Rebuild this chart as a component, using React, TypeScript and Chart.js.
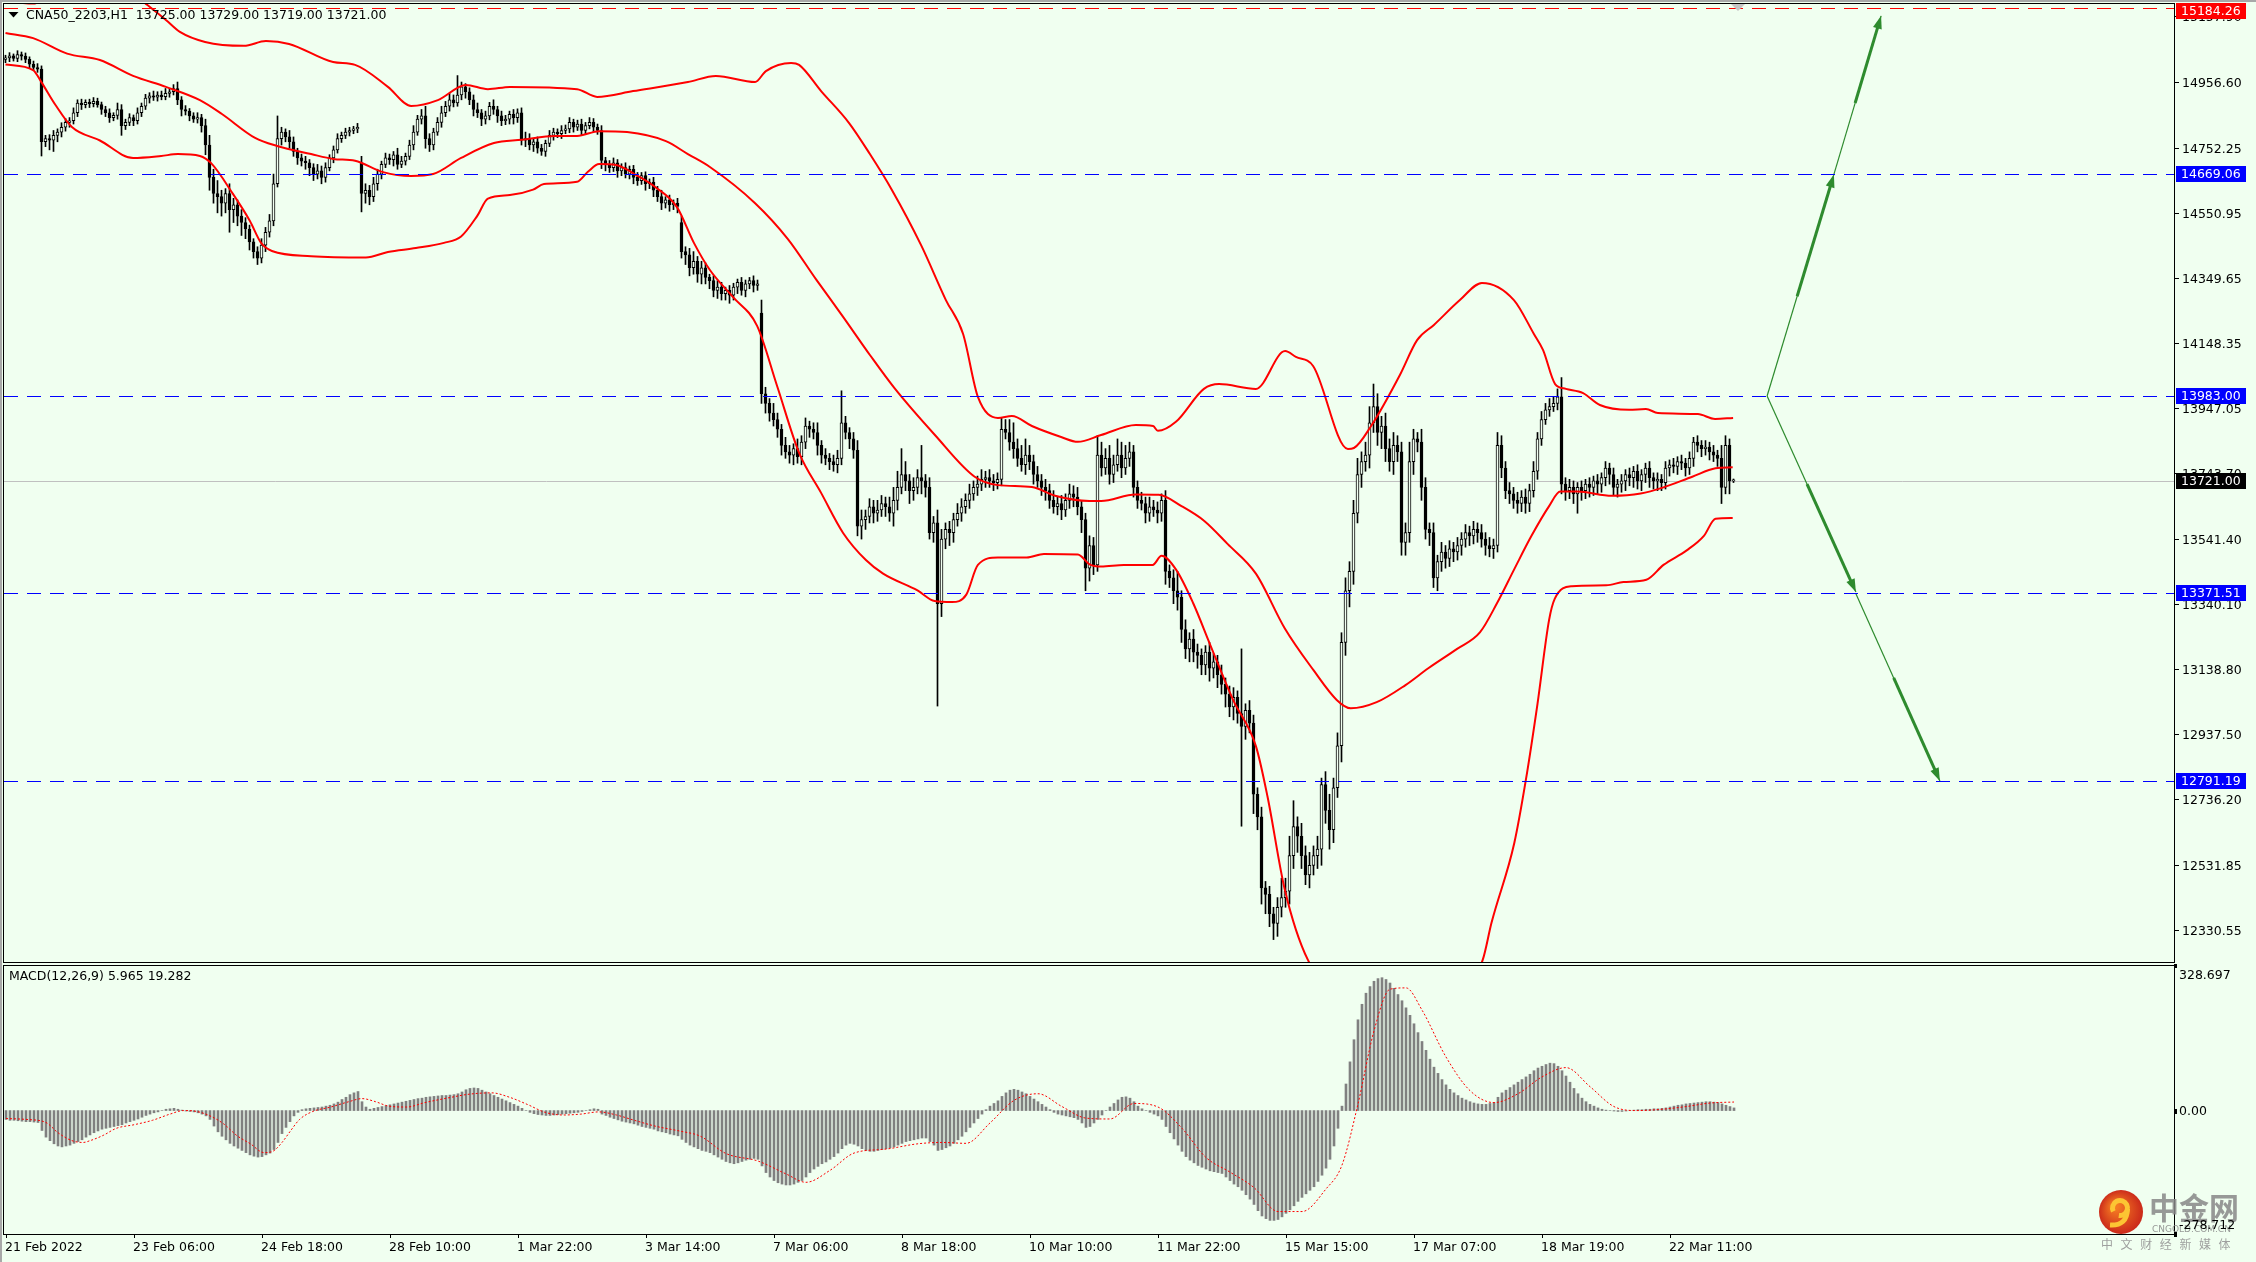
import React, { useEffect, useRef } from 'react';
import { Chart, registerables } from 'chart.js';

Chart.register(...registerables);

// ---------------- data ----------------
const titleText = 'CNA50_2203,H1  13725.00 13729.00 13719.00 13721.00';
const macdTitle = 'MACD(12,26,9) 5.965 19.282';

const firstOpen = 15025;
const gapOpens: Record<number, number> = { 89: 14705, 169: 14520, 189: 14240 };

const closes = [
  15030, 15036, 15028, 15040, 15035, 15025, 15010, 15000, 14995, 14770,
  14780, 14775, 14790, 14800, 14815, 14830, 14835, 14860, 14890, 14885,
  14892, 14888, 14895, 14885, 14870, 14860, 14845, 14852, 14870, 14820,
  14830, 14845, 14835, 14860, 14880, 14905, 14912, 14908, 14915, 14910,
  14920, 14925, 14935, 14900, 14870, 14865, 14850, 14840, 14845, 14820,
  14760, 14660, 14610, 14600, 14580, 14610, 14560, 14575, 14540, 14520,
  14500, 14460, 14430, 14410, 14450, 14490, 14525, 14640, 14780, 14800,
  14785, 14770, 14740, 14720, 14710, 14705, 14690, 14670, 14680, 14660,
  14690, 14720, 14745, 14780, 14790, 14800, 14805, 14810, 14815, 14610,
  14620, 14600, 14640, 14670, 14700, 14720, 14715, 14730, 14700, 14710,
  14725, 14760, 14800, 14840, 14850, 14780, 14760, 14800, 14830, 14860,
  14880, 14900, 14890, 14915, 14940, 14925, 14900, 14870, 14860, 14840,
  14850, 14880, 14870, 14850, 14835, 14840, 14855, 14845, 14860, 14775,
  14780, 14760, 14770, 14750, 14740, 14765, 14790, 14800, 14795, 14805,
  14810, 14830, 14815, 14825, 14805, 14820, 14830, 14815, 14805, 14712,
  14700, 14690, 14705, 14680, 14690, 14670, 14685, 14660, 14650, 14665,
  14640, 14645, 14620, 14600, 14580, 14590, 14575, 14580, 14570, 14430,
  14420, 14380, 14400, 14360, 14380, 14350, 14340, 14310, 14320, 14300,
  14310, 14295, 14320, 14335, 14310, 14330, 14340, 14325, 14330, 13990,
  13960, 13930, 13910, 13880, 13830, 13810, 13800, 13820, 13795, 13840,
  13890, 13880, 13870, 13830, 13800, 13790, 13780, 13770, 13790, 13900,
  13870, 13850, 13815, 13580, 13600, 13610, 13640, 13620, 13630, 13650,
  13640, 13620, 13660, 13700, 13740, 13720, 13690, 13700, 13730, 13720,
  13700, 13560, 13590, 13340, 13540, 13570, 13560, 13600, 13620, 13640,
  13660, 13680, 13700, 13710, 13725, 13730, 13720, 13715, 13725, 13880,
  13870, 13840, 13820, 13790, 13770, 13800, 13780, 13740, 13720, 13700,
  13690, 13660, 13640, 13650, 13630, 13660, 13680, 13670, 13640, 13600,
  13450, 13520, 13460, 13800, 13760, 13790, 13740, 13770, 13800, 13760,
  13790, 13810, 13700, 13660, 13650, 13620, 13640, 13630, 13620, 13660,
  13440, 13420, 13380, 13360, 13260, 13200, 13230, 13190, 13180, 13150,
  13190, 13140, 13160, 13120, 13090, 13060, 13020, 13050, 13000, 12960,
  13010, 12970, 12750, 12680, 12460, 12440, 12380, 12350, 12400, 12430,
  12450, 12560, 12650, 12620, 12560, 12500, 12530, 12560, 12580, 12780,
  12700, 12640, 12770, 12900, 13220, 13380, 13440, 13620, 13740, 13780,
  13800, 13900, 13950, 13870, 13890, 13820, 13780, 13830, 13810, 13530,
  13560, 13780, 13850, 13840, 13700, 13570, 13560, 13420, 13470, 13500,
  13480, 13510, 13500, 13520, 13540, 13560, 13550, 13570, 13560, 13540,
  13520, 13510, 13520, 13830, 13760, 13690, 13680, 13660, 13650, 13670,
  13650, 13690, 13750, 13850, 13910, 13940, 13950, 13960, 13980, 13710,
  13690, 13700, 13680, 13700, 13690, 13710, 13700, 13720, 13710, 13730,
  13760, 13740, 13700, 13710, 13720, 13740, 13730, 13750, 13720, 13740,
  13760, 13730, 13720, 13725, 13715, 13760, 13770, 13765, 13780, 13775,
  13760, 13790, 13840, 13830, 13820, 13825, 13810, 13800, 13790, 13700,
  13830, 13720, 13721,
];

const wickUp = [
  8, 10, 6, 12, 8, 10, 8, 10, 12, 10,
  10, 12, 15, 10, 14, 12, 10, 15, 10, 12,
  8, 10, 12, 10, 8, 10, 12, 8, 20, 15,
  10, 12, 8, 15, 10, 12, 10, 15, 10, 12,
  15, 10, 12, 20, 10, 12, 8, 10, 15, 10,
  20, 30, 25, 40, 20, 15, 30, 20, 15, 20,
  15, 12, 10, 15, 20, 15, 20, 30, 70, 15,
  10, 20, 15, 10, 12, 15, 10, 12, 20, 15,
  15, 10, 12, 15, 10, 12, 10, 8, 12, 20,
  20, 15, 20, 15, 10, 15, 12, 10, 20, 15,
  10, 15, 20, 12, 20, 30, 15, 12, 15, 20,
  15, 20, 15, 60, 15, 10, 12, 15, 20, 10,
  15, 12, 20, 10, 15, 12, 10, 15, 12, 15,
  20, 15, 10, 15, 12, 10, 15, 12, 10, 15,
  12, 15, 10, 12, 15, 10, 15, 12, 10, 15,
  10, 12, 15, 10, 12, 15, 10, 12, 15, 10,
  12, 10, 15, 12, 20, 10, 15, 10, 15, 20,
  15, 20, 30, 15, 20, 15, 10, 15, 20, 15,
  10, 15, 12, 10, 15, 12, 10, 15, 12, 40,
  20, 15, 30, 20, 15, 25, 20, 15, 30, 20,
  25, 15, 20, 30, 15, 20, 15, 20, 25, 99,
  20, 15, 20, 30, 30, 20, 25, 20, 30, 25,
  20, 30, 40, 50, 80, 40, 20, 30, 25, 100,
  20, 30, 20, 40, 30, 20, 25, 20, 30, 25,
  20, 30, 20, 25, 30, 20, 25, 20, 20, 35,
  30, 40, 60, 30, 40, 50, 30, 20, 25, 20,
  25, 20, 30, 20, 25, 20, 30, 25, 30, 20,
  20, 30, 25, 60, 40, 30, 40, 30, 50, 40,
  40, 30, 20, 20, 25, 20, 30, 20, 25, 20,
  30, 20, 25, 60, 20, 30, 20, 30, 25, 20,
  20, 30, 25, 20, 30, 20, 25, 30, 20, 200,
  20, 30, 25, 20, 30, 20, 25, 20, 30, 60,
  40, 60, 80, 30, 40, 30, 40, 30, 40, 20,
  40, 50, 30, 40, 30, 40, 30, 40, 50, 30,
  40, 50, 70, 40, 30, 40, 30, 40, 30, 30,
  30, 60, 30, 20, 40, 30, 20, 30, 20, 30,
  20, 25, 20, 25, 20, 25, 20, 25, 20, 25,
  20, 25, 20, 40, 30, 20, 25, 20, 25, 20,
  25, 20, 30, 20, 25, 20, 25, 20, 25, 60,
  20, 25, 20, 15, 20, 15, 20, 15, 20, 15,
  20, 15, 20, 15, 20, 15, 20, 15, 20, 15,
  15, 20, 15, 20, 15, 20, 15, 20, 15, 20,
  15, 20, 15, 20, 15, 20, 15, 20, 15, 40,
  30, 20, 5,
];

const wickDown = [
  10, 12, 8, 10, 12, 10, 12, 8, 10, 44,
  15, 30, 35, 20, 15, 12, 15, 10, 12, 15,
  10, 12, 10, 8, 15, 12, 15, 10, 12, 30,
  12, 10, 15, 10, 12, 10, 15, 10, 12, 10,
  10, 12, 10, 15, 20, 12, 15, 10, 12, 20,
  30, 40, 30, 50, 40, 30, 70, 40, 30, 40,
  30, 25, 20, 20, 15, 20, 15, 15, 10, 20,
  15, 20, 15, 20, 15, 20, 25, 20, 15, 20,
  15, 10, 15, 10, 12, 10, 12, 10, 12, 57,
  30, 25, 15, 20, 15, 10, 15, 20, 15, 10,
  12, 10, 15, 10, 15, 30, 20, 15, 10, 15,
  12, 15, 12, 10, 15, 20, 15, 20, 15, 20,
  15, 12, 15, 20, 15, 12, 15, 20, 15, 15,
  20, 15, 20, 15, 12, 15, 10, 15, 12, 15,
  10, 12, 15, 10, 15, 12, 10, 15, 12, 25,
  20, 15, 12, 20, 15, 12, 15, 20, 15, 12,
  20, 15, 20, 15, 20, 15, 20, 15, 20, 20,
  30, 25, 20, 25, 30, 20, 25, 20, 25, 20,
  20, 25, 15, 20, 15, 20, 15, 20, 15, 30,
  30, 25, 20, 25, 30, 20, 25, 30, 20, 25,
  20, 25, 20, 30, 25, 20, 25, 20, 25, 20,
  20, 30, 25, 30, 40, 30, 20, 30, 25, 20,
  30, 25, 40, 30, 20, 30, 40, 30, 20, 40,
  30, 20, 30, 317, 40, 30, 40, 30, 20, 25,
  20, 25, 20, 25, 20, 25, 20, 25, 20, 20,
  20, 25, 30, 25, 20, 30, 25, 30, 20, 25,
  30, 25, 20, 25, 30, 20, 25, 30, 25, 40,
  70, 40, 30, 20, 25, 20, 30, 25, 20, 30,
  20, 25, 30, 25, 20, 30, 25, 20, 30, 25,
  40, 30, 40, 40, 40, 30, 40, 30, 40, 30,
  30, 40, 30, 40, 30, 40, 30, 40, 30, 309,
  40, 30, 60, 40, 50, 60, 40, 50, 40, 30,
  30, 40, 40, 50, 40, 30, 40, 30, 40, 50,
  40, 60, 40, 30, 50, 40, 50, 40, 30, 40,
  30, 40, 30, 40, 50, 40, 30, 40, 30, 40,
  40, 30, 40, 30, 40, 30, 40, 30, 40, 30,
  30, 25, 30, 25, 30, 25, 30, 25, 30, 25,
  30, 25, 30, 20, 30, 25, 30, 25, 30, 25,
  30, 25, 20, 25, 20, 15, 20, 15, 20, 30,
  30, 25, 30, 60, 30, 25, 30, 25, 30, 25,
  25, 30, 25, 30, 25, 30, 25, 30, 25, 30,
  25, 30, 25, 30, 25, 20, 25, 20, 25, 20,
  25, 20, 25, 20, 25, 20, 25, 20, 25, 50,
  20, 40, 5,
];

// Bollinger bands: [bar index, price]
const bbUpper: [number, number][] = [
  [0, 15205], [7, 15198], [12.5, 15240], [16.6, 15275], [23.6, 15272], [31.9, 15228], [35.4, 15194],
  [40.1, 15147], [43.6, 15110], [49.9, 15079], [59.6, 15067], [65.1, 15082], [70.9, 15073], [81.9, 15017],
  [87.4, 15008], [95.6, 14940], [101.4, 14881], [108.1, 14899], [115.1, 14946], [120.6, 14933], [126.1, 14940],
  [142.9, 14933], [147.9, 14909], [156.9, 14927], [170.6, 14955], [177.6, 14974], [187.4, 14955], [190.1, 14989],
  [196.4, 15014], [198.4, 15008], [203.9, 14927], [210.9, 14828], [216.1, 14732], [221.6, 14621], [228.9, 14450],
  [235.1, 14280], [239.4, 14175], [243.1, 13980], [248.1, 13915], [251.6, 13921], [256.6, 13890], [263.9, 13856],
  [268.1, 13841], [273.9, 13862], [282.6, 13893], [286.9, 13890], [288.1, 13875], [292.6, 13903], [299.6, 14005],
  [303.4, 14020], [312.6, 14005], [319.9, 14122], [322.6, 14104], [326.9, 14076], [335.6, 13819], [337.1, 13822],
  [341.4, 13890], [348.6, 14048], [352.9, 14156], [357.1, 14203], [363.6, 14280], [369.1, 14333], [377.1, 14280],
  [382.1, 14175], [384.4, 14125], [387.4, 14020], [390.1, 14005], [394.4, 13992], [398.6, 13955], [405.9, 13940],
  [410.1, 13943], [413.1, 13930], [423.1, 13927], [427.4, 13912], [431.9, 13915],
];
const bbMiddle: [number, number][] = [
  [0, 15107], [6.9, 15091], [15.4, 15043], [23.6, 15023], [31.9, 14974], [40.1, 14940], [48.6, 14899],
  [54.1, 14856], [62.4, 14782], [67.9, 14757], [76.4, 14732], [81.9, 14717], [87.4, 14711], [94.4, 14676],
  [101.4, 14664], [106.9, 14670], [113.9, 14720], [122.1, 14766], [129.1, 14776], [137.4, 14788], [142.9, 14788],
  [148.4, 14803], [155.4, 14800], [165.1, 14772], [170.6, 14732], [176.1, 14692], [187.4, 14580], [195.6, 14469],
  [202.6, 14345], [209.4, 14228], [216.1, 14110], [222.2, 14008], [232.3, 13863], [242.3, 13733], [248.1, 13707],
  [256.6, 13701], [262.4, 13674], [271, 13658], [273.9, 13658], [282.5, 13678], [288.3, 13677], [294, 13642],
  [299.7, 13596], [305.5, 13525], [312.6, 13433], [319.8, 13264], [327, 13134], [332.8, 13042], [336.3, 13016],
  [342.8, 13035], [350, 13088], [355.7, 13140], [362.9, 13200], [368.6, 13251], [372.9, 13342], [377.2, 13447],
  [381.5, 13550], [385.9, 13642], [388.7, 13687], [393, 13687], [401.6, 13674], [408.8, 13681], [414.5, 13700],
  [421.7, 13733], [427.5, 13759], [431.8, 13762],
];
const bbLower: [number, number][] = [
  [0, 15009], [6.9, 14992], [9, 14954], [12.5, 14884], [16.6, 14816], [23.6, 14774], [31.9, 14720],
  [38.9, 14726], [43.1, 14732], [48.6, 14726], [51.4, 14704], [56.9, 14608], [61.1, 14525], [63.9, 14457],
  [66.6, 14432], [76.4, 14416], [90.1, 14412], [95.6, 14429], [102.6, 14441], [109.6, 14457], [113.9, 14477],
  [117.9, 14540], [120.6, 14594], [126.1, 14605], [131.9, 14622], [134.6, 14639], [142.9, 14646], [145.6, 14677],
  [148.4, 14701], [152.6, 14698], [158.1, 14664], [162.4, 14630], [167.9, 14567], [172.1, 14457], [176.1, 14373],
  [181.9, 14289], [187.9, 14200], [192.9, 14014], [198.4, 13807], [203.9, 13683], [209.4, 13559], [215.1, 13475],
  [219.4, 13433], [228, 13381], [232.3, 13348], [236.6, 13345], [240.2, 13368], [243.1, 13460], [248.1, 13483],
  [255.3, 13483], [259.6, 13494], [268.1, 13492], [271, 13462], [273.9, 13455], [279.6, 13460], [286.8, 13460],
  [289, 13488], [292.6, 13446], [296.9, 13342], [301.2, 13212], [306.9, 13042], [312.6, 12899], [315.5, 12743],
  [319.8, 12456], [325.6, 12237], [330, 12180], [337, 12200], [343, 12160], [349, 12110], [357, 12095],
  [364, 12140], [369.3, 12237], [371.5, 12352], [377.2, 12599], [380.1, 12795], [383, 13030], [385.9, 13290],
  [387.3, 13355], [391.6, 13394], [400.2, 13397], [404.5, 13407], [410.2, 13414], [414.5, 13460], [420.3, 13505],
  [424.6, 13550], [427.5, 13603], [431.8, 13605],
];

const priceTicks = [
  15157.9, 14956.6, 14752.25, 14550.95, 14349.65, 14148.35, 13947.05, 13743.7,
  13541.4, 13340.1, 13138.8, 12937.5, 12736.2, 12531.85, 12330.55,
];
const levelPrices = [15184.26, 14669.06, 13983.0, 13371.51, 12791.19];
const levelColors = ['#FF0000', '#0000FF', '#0000FF', '#0000FF', '#0000FF'];
const lastPrice = 13721.0;

// projected paths: [bar index, price]
const arrowSegments: [number, number][][] = [
  [[440.4, 13983], [457.1, 14669]],
  [[457.1, 14669], [468.9, 15160]],
  [[440.4, 13983], [462.6, 13376]],
  [[462.6, 13371], [483.6, 12791]],
];

const macdHist = [
  -20, -22, -22, -23, -24, -25, -25, -26, -27, -45,
  -60, -68, -75, -80, -82, -80, -78, -74, -70, -66,
  -60, -55, -50, -46, -42, -40, -38, -36, -34, -32,
  -28, -25, -22, -19, -15, -11, -8, -5, -3, 0,
  3, 4, 5, 3, 1, -1, -2, -3, -5, -8,
  -12, -20, -35, -48, -58, -66, -74, -80, -85, -90,
  -95, -100, -103, -105, -104, -100, -96, -88, -72, -52,
  -38, -25, -12, -4, 2, 4, 5, 6, 7, 8,
  10, 12, 15, 19, 25, 30, 36, 40, 43, 20,
  8, 3, 5, 7, 9, 11, 13, 15, 17, 19,
  21, 23, 25, 27, 28, 30, 31, 32, 33, 34,
  34, 35, 36, 38, 42, 47, 50, 51, 50, 46,
  42, 38, 34, 30, 26, 22, 18, 14, 10, 5,
  0, -4, -7, -9, -10, -11, -11, -10, -9, -8,
  -7, -6, -5, -4, -2, 0, 2, 4, 3, -8,
  -11, -15, -18, -21, -24, -26, -28, -30, -33, -36,
  -38, -40, -42, -46, -48, -50, -53, -55, -57, -65,
  -72, -78, -82, -86, -90, -92, -95, -100, -105, -110,
  -115, -118, -120, -118, -115, -112, -110, -108, -110, -125,
  -140, -150, -158, -163, -166, -168, -168, -166, -162, -158,
  -150, -140, -132, -126, -120, -116, -110, -104, -96, -86,
  -78, -74, -76, -80, -86, -90, -92, -92, -90, -88,
  -86, -84, -82, -78, -74, -70, -68, -66, -64, -62,
  -62, -70, -78, -90, -88, -84, -80, -74, -66, -58,
  -48, -38, -28, -18, -8, 2, 10, 16, 22, 32,
  40, 46, 48, 46, 42, 38, 32, 26, 20, 14,
  8, 2, -4, -8, -10, -12, -14, -16, -20, -28,
  -38, -36, -28, -20, -10, 0, 8, 16, 24, 30,
  31, 28, 20, 10, 4, 0, -4, -8, -12, -20,
  -36, -50, -64, -78, -92, -104, -112, -118, -124, -128,
  -132, -136, -138, -140, -142, -150, -158, -166, -172, -180,
  -190, -200, -212, -226, -238, -244, -248, -248, -246, -240,
  -232, -224, -215, -205, -196, -188, -180, -172, -160, -146,
  -130, -110, -80, -40, 10, 60, 110, 160, 205, 240,
  265, 280, 292, 298, 300, 296, 288, 276, 262, 248,
  232, 215, 196, 176, 156, 136, 116, 98, 84, 70,
  58, 48, 40, 34, 28, 24, 20, 17, 15, 14,
  14, 16, 18, 30, 40, 46, 52, 58, 64, 70,
  76, 82, 90, 96, 100, 104, 107, 106, 100, 90,
  78, 64, 50, 38, 28, 20, 14, 10, 6, 3,
  1, 0, -1, -2, -2, -1, 0, 1, 2, 2,
  3, 3, 4, 4, 5, 6, 8, 10, 12, 13,
  15, 16, 17, 18, 19, 20, 20, 19, 18, 15,
  12, 9, 6,
];

const macdSignal: [number, number][] = [
  [0, -18], [5, -20], [10, -27], [13, -50], [16.5, -68], [19.3, -72], [21, -68], [24.3, -56], [27.6, -40],
  [32, -32], [36.6, -22], [41, -8], [44.4, 0], [47.7, -2], [51, -12], [54.4, -30], [57.8, -57], [61.1, -75],
  [64.5, -95], [66.7, -92], [69, -72], [71.2, -45], [73.4, -20], [76.7, -2], [81.2, 8], [85.7, 20], [89, 27],
  [92.4, 20], [95.7, 10], [100.2, 8], [104.7, 18], [110.2, 28], [115.8, 37], [121.4, 40], [125.9, 30],
  [130.3, 14], [134.8, -4], [139.3, -10], [143.7, -8], [148.2, -3], [152.6, -10], [157.1, -22], [162.7, -36],
  [168.3, -46], [173.6, -58], [180, -97], [188, -114], [195, -143], [200, -162], [206, -135], [212, -96],
  [220, -87], [228, -75], [234, -72], [240, -74], [246, -28], [252, 23], [258, 38], [264, 9], [270, -17],
  [276, -19], [282, 16], [288, 8], [294, -40], [300, -106], [306, -139], [312, -174], [318, -228], [324, -228],
  [330, -177], [334, -123], [338, 15], [342, 180], [346, 274], [350, 277], [354, 227], [360, 121], [366, 45],
  [372, 18], [378, 38], [384, 76], [390, 97], [396, 54], [402, 9], [408, 0], [414, 3], [420, 9], [426, 17],
  [432, 19.28],
];
const macdMin = -278.712;
const macdMax = 328.697;
const macdLabelValues = [328.697, 0, -278.712];

const timeTickBars = [0, 32, 64, 96, 128, 160, 192, 224, 256, 288, 320, 352, 384, 416];
const timeTickLabels = [
  '21 Feb 2022', '23 Feb 06:00', '24 Feb 18:00', '28 Feb 10:00', '1 Mar 22:00', '3 Mar 14:00', '7 Mar 06:00',
  '8 Mar 18:00', '10 Mar 10:00', '11 Mar 22:00', '15 Mar 15:00', '17 Mar 07:00', '18 Mar 19:00', '22 Mar 11:00',
];

// ---------------- layout / style ----------------
const W = 2256;
const H = 1262;
const MAIN_H = 964;
const MACD_H = H - MAIN_H;
const AREA_LEFT = 4;
const AREA_RIGHT = 2174;
const MAIN_TOP = 4;
const MAIN_BOTTOM = 962;
const MACD_TOP = 1;
const MACD_BOTTOM = 270;
const PRICE_MAX = 15196.6;
const PRICE_MIN = 12230.6;
const BG = '#F0FFF0';
const GREEN = '#2E8B2E';
const FF = '"DejaVu Sans", Verdana, sans-serif';
const FONT = '12.5px ' + FF;

const candles = closes.map((c, i) => {
  const o = gapOpens[i] !== undefined ? gapOpens[i] : i === 0 ? firstOpen : closes[i - 1];
  return { i, o, c, h: Math.max(o, c) + wickUp[i], l: Math.min(o, c) - wickDown[i] };
});

const crisp = (v: number) => Math.round(v) + 0.5;

const mainDecor = {
  id: 'mainDecor',
  beforeDraw(chart: any) {
    const ctx = chart.ctx;
    ctx.save();
    ctx.fillStyle = BG;
    ctx.fillRect(0, 0, chart.width, chart.height);
    ctx.restore();
  },
  beforeDatasetsDraw(chart: any) {
    // current price line (behind the candles)
    const { ctx } = chart;
    const ys = chart.scales.y;
    const y = crisp(ys.getPixelForValue(lastPrice));
    ctx.save();
    ctx.strokeStyle = '#C0C0C0';
    ctx.lineWidth = 1;
    ctx.beginPath();
    ctx.moveTo(AREA_LEFT, y);
    ctx.lineTo(AREA_RIGHT, y);
    ctx.stroke();
    ctx.restore();
  },
  afterDatasetsDraw(chart: any) {
    const { ctx } = chart;
    const xs = chart.scales.x;
    const ys = chart.scales.y;
    ctx.save();
    // level lines
    ctx.lineWidth = 1;
    ctx.setLineDash([14, 9]);
    levelPrices.forEach((p, k) => {
      const y = crisp(ys.getPixelForValue(p));
      ctx.strokeStyle = levelColors[k];
      ctx.beginPath();
      ctx.moveTo(AREA_LEFT, y);
      ctx.lineTo(AREA_RIGHT, y);
      ctx.stroke();
    });
    ctx.setLineDash([]);
    // arrows
    ctx.strokeStyle = GREEN;
    ctx.fillStyle = GREEN;
    ctx.lineCap = 'butt';
    for (const seg of arrowSegments) {
      const x0 = xs.getPixelForValue(seg[0][0]);
      const y0 = ys.getPixelForValue(seg[0][1]);
      const x1 = xs.getPixelForValue(seg[1][0]);
      const y1 = ys.getPixelForValue(seg[1][1]);
      const dx = x1 - x0;
      const dy = y1 - y0;
      const len = Math.hypot(dx, dy);
      const ux = dx / len;
      const uy = dy / len;
      const hl = 13;
      const hw = 4.5;
      const bx = x1 - ux * hl;
      const by = y1 - uy * hl;
      ctx.lineWidth = 3;
      ctx.beginPath();
      ctx.moveTo(x0 + dx * 0.45, y0 + dy * 0.45);
      ctx.lineTo(bx + ux * 2, by + uy * 2);
      ctx.stroke();
      ctx.beginPath();
      ctx.moveTo(x1, y1);
      ctx.lineTo(bx - uy * hw, by + ux * hw);
      ctx.lineTo(bx + uy * hw, by - ux * hw);
      ctx.closePath();
      ctx.fill();
    }
    ctx.restore();
  },
  afterDraw(chart: any) {
    const { ctx } = chart;
    const ys = chart.scales.y;
    ctx.save();
    // window edges
    ctx.fillStyle = '#A8A8A8';
    ctx.fillRect(0, 0, W, 2);
    ctx.fillRect(0, 0, 2, chart.height);
    // frame
    ctx.strokeStyle = '#000';
    ctx.lineWidth = 1;
    ctx.strokeRect(AREA_LEFT - 0.5, MAIN_TOP - 0.5, AREA_RIGHT - AREA_LEFT + 1, MAIN_BOTTOM - MAIN_TOP + 1);
    // price ticks
    ctx.font = FONT;
    ctx.textBaseline = 'middle';
    ctx.textAlign = 'left';
    ctx.fillStyle = '#000';
    for (const v of priceTicks) {
      const y = crisp(ys.getPixelForValue(v));
      ctx.beginPath();
      ctx.moveTo(AREA_RIGHT, y);
      ctx.lineTo(AREA_RIGHT + 5, y);
      ctx.stroke();
      ctx.fillText(v.toFixed(2), AREA_RIGHT + 8, y + 1);
    }
    // price boxes
    const boxes = levelPrices.map((p, k) => ({ p, c: levelColors[k] }));
    boxes.push({ p: lastPrice, c: '#000000' });
    for (const b of boxes) {
      const y = ys.getPixelForValue(b.p);
      const top = Math.max(3, Math.round(y - 8));
      ctx.fillStyle = b.c;
      ctx.fillRect(AREA_RIGHT + 2, top, 70, 16);
      ctx.fillStyle = '#FFFFFF';
      ctx.fillText(b.p.toFixed(2), AREA_RIGHT + 7, top + 9);
    }
    // title
    ctx.fillStyle = '#000';
    ctx.beginPath();
    ctx.moveTo(8.5, 12);
    ctx.lineTo(18.5, 12);
    ctx.lineTo(13.5, 17.5);
    ctx.closePath();
    ctx.fill();
    ctx.fillText(titleText, 26, 15.5);
    // chart shift marker
    ctx.fillStyle = '#C4C4C4';
    ctx.beginPath();
    ctx.moveTo(1731, 4);
    ctx.lineTo(1745, 4);
    ctx.lineTo(1738, 11);
    ctx.closePath();
    ctx.fill();
    ctx.restore();
  },
};

const macdDecor = {
  id: 'macdDecor',
  beforeDraw(chart: any) {
    const ctx = chart.ctx;
    ctx.save();
    ctx.fillStyle = BG;
    ctx.fillRect(0, 0, chart.width, chart.height);
    ctx.restore();
  },
  afterDraw(chart: any) {
    const { ctx } = chart;
    const xs = chart.scales.x;
    const ys = chart.scales.y;
    ctx.save();
    ctx.fillStyle = '#A8A8A8';
    ctx.fillRect(0, 0, 2, chart.height);
    ctx.strokeStyle = '#000';
    ctx.lineWidth = 1;
    ctx.strokeRect(AREA_LEFT - 0.5, MACD_TOP + 0.5, AREA_RIGHT - AREA_LEFT + 1, MACD_BOTTOM - MACD_TOP);
    ctx.font = FONT;
    ctx.fillStyle = '#000';
    ctx.textBaseline = 'middle';
    ctx.textAlign = 'left';
    ctx.fillText(macdTitle, 9, 13);
    // time axis
    for (let k = 0; k < timeTickBars.length; k++) {
      const x = crisp(xs.getPixelForValue(timeTickBars[k]));
      ctx.beginPath();
      ctx.moveTo(x, MACD_BOTTOM);
      ctx.lineTo(x, MACD_BOTTOM + 4);
      ctx.stroke();
      ctx.fillText(timeTickLabels[k], x - 1.5, MACD_BOTTOM + 14);
    }
    // watermark
    const cx = 2121;
    const cy = 248;
    const g = ctx.createRadialGradient(cx - 6, cy - 6, 3, cx, cy, 23);
    g.addColorStop(0, '#F47A22');
    g.addColorStop(1, '#C9261A');
    ctx.fillStyle = g;
    ctx.beginPath();
    ctx.arc(cx, cy, 22, 0, Math.PI * 2);
    ctx.fill();
    ctx.strokeStyle = '#FCC533';
    ctx.lineWidth = 5;
    ctx.beginPath();
    ctx.arc(cx - 1, cy - 4, 7.5, Math.PI * 0.85, Math.PI * 2.55);
    ctx.stroke();
    ctx.beginPath();
    ctx.moveTo(cx + 6.5, cy - 3);
    ctx.quadraticCurveTo(cx + 6, cy + 14, cx - 11, cy + 13);
    ctx.stroke();
    ctx.fillStyle = 'rgba(135,135,135,0.85)';
    ctx.font = 'bold 30px "Noto Sans CJK SC"';
    ctx.fillText('中金网', 2149, 244);
    ctx.font = '9px ' + FF;
    ctx.fillText('CNGOLD.COM.CN', 2152, 266);
    ctx.font = '12px "Noto Sans CJK SC"';
    ctx.fillStyle = 'rgba(150,150,150,0.9)';
    const chars = ['中', '文', '财', '经', '新', '媒', '体'];
    chars.forEach((ch, k) => ctx.fillText(ch, 2101 + k * 19.6, 280));
    // value axis
    ctx.font = FONT;
    ctx.fillStyle = '#000';
    ctx.strokeStyle = '#000';
    for (const v of macdLabelValues) {
      const yy = ys.getPixelForValue(v);
      const y = crisp(yy);
      ctx.beginPath();
      ctx.moveTo(AREA_RIGHT, y);
      ctx.lineTo(AREA_RIGHT + 3, y);
      ctx.stroke();
      let ty = y;
      if (v === macdMax) ty = y + 10;
      if (v === macdMin) ty = y - 9;
      const txt = v === 0 ? '0.00' : v.toFixed(3);
      ctx.fillText(txt, AREA_RIGHT + 5, ty);
    }
    ctx.restore();
  },
};

export default function App() {
  const mainRef = useRef<HTMLCanvasElement>(null);
  const macdRef = useRef<HTMLCanvasElement>(null);

  useEffect(() => {
    document.body.style.margin = '0';
    document.body.style.background = BG;

    const band = (pts: [number, number][]) => ({
      type: 'line',
      data: pts.map(([x, y]) => ({ x, y })),
      borderColor: '#FF0000',
      borderWidth: 2,
      pointRadius: 0,
      cubicInterpolationMode: 'monotone',
      borderJoinStyle: 'round',
      order: 3,
    });

    const main = new Chart(mainRef.current as HTMLCanvasElement, {
      type: 'bar',
      data: {
        datasets: [
          {
            type: 'bar',
            data: candles.map((k) => ({ x: k.i, y: [k.l, k.h] })),
            backgroundColor: '#000000',
            borderWidth: 0,
            barThickness: 1,
            grouped: false,
            order: 7,
          },
          {
            type: 'bar',
            data: candles.map((k) => ({ x: k.i, y: [k.o, k.c] })),
            backgroundColor: candles.map((k) => (k.c >= k.o ? BG : '#000000')),
            borderColor: '#000000',
            borderWidth: 1,
            borderSkipped: false,
            barThickness: 3,
            minBarLength: 1,
            grouped: false,
            order: 6,
          },
          band(bbUpper) as any,
          band(bbMiddle) as any,
          band(bbLower) as any,
          ...arrowSegments.map((seg) => ({
            type: 'line',
            data: seg.map(([x, y]) => ({ x, y })),
            borderColor: GREEN,
            borderWidth: 1.2,
            pointRadius: 0,
            order: 2,
          })) as any,
        ],
      },
      options: {
        responsive: false,
        animation: false,
        events: [],
        layout: { padding: { left: AREA_LEFT, top: MAIN_TOP, right: W - AREA_RIGHT, bottom: MAIN_H - MAIN_BOTTOM } },
        plugins: { legend: { display: false }, tooltip: { enabled: false } },
        scales: {
          x: { type: 'linear', min: -0.375, max: 542.125, display: false, offset: false },
          y: { type: 'linear', min: PRICE_MIN, max: PRICE_MAX, display: false },
        },
      } as any,
      plugins: [mainDecor],
    } as any);

    const macd = new Chart(macdRef.current as HTMLCanvasElement, {
      type: 'bar',
      data: {
        datasets: [
          {
            type: 'bar',
            data: macdHist.map((v, i) => ({ x: i, y: v })),
            backgroundColor: '#808080',
            borderWidth: 0,
            barThickness: 2,
            grouped: false,
            order: 2,
          },
          {
            type: 'line',
            data: macdSignal.map(([x, y]) => ({ x, y })),
            borderColor: '#FF0000',
            borderWidth: 1,
            borderDash: [2, 2],
            pointRadius: 0,
            cubicInterpolationMode: 'monotone',
            order: 1,
          },
        ] as any,
      },
      options: {
        responsive: false,
        animation: false,
        events: [],
        layout: { padding: { left: AREA_LEFT, top: MACD_TOP, right: W - AREA_RIGHT, bottom: MACD_H - MACD_BOTTOM } },
        plugins: { legend: { display: false }, tooltip: { enabled: false } },
        scales: {
          x: { type: 'linear', min: -0.5, max: 542.0, display: false, offset: false },
          y: { type: 'linear', min: macdMin, max: macdMax, display: false },
        },
      } as any,
      plugins: [macdDecor],
    } as any);

    return () => {
      main.destroy();
      macd.destroy();
    };
  }, []);

  return (
    <div style={{ position: 'relative', width: W, height: H, background: BG, overflow: 'hidden' }}>
      <canvas
        ref={mainRef}
        width={W}
        height={MAIN_H}
        style={{ position: 'absolute', left: 0, top: 0, width: W, height: MAIN_H }}
      />
      <canvas
        ref={macdRef}
        width={W}
        height={MACD_H}
        style={{ position: 'absolute', left: 0, top: MAIN_H, width: W, height: MACD_H }}
      />
    </div>
  );
}
